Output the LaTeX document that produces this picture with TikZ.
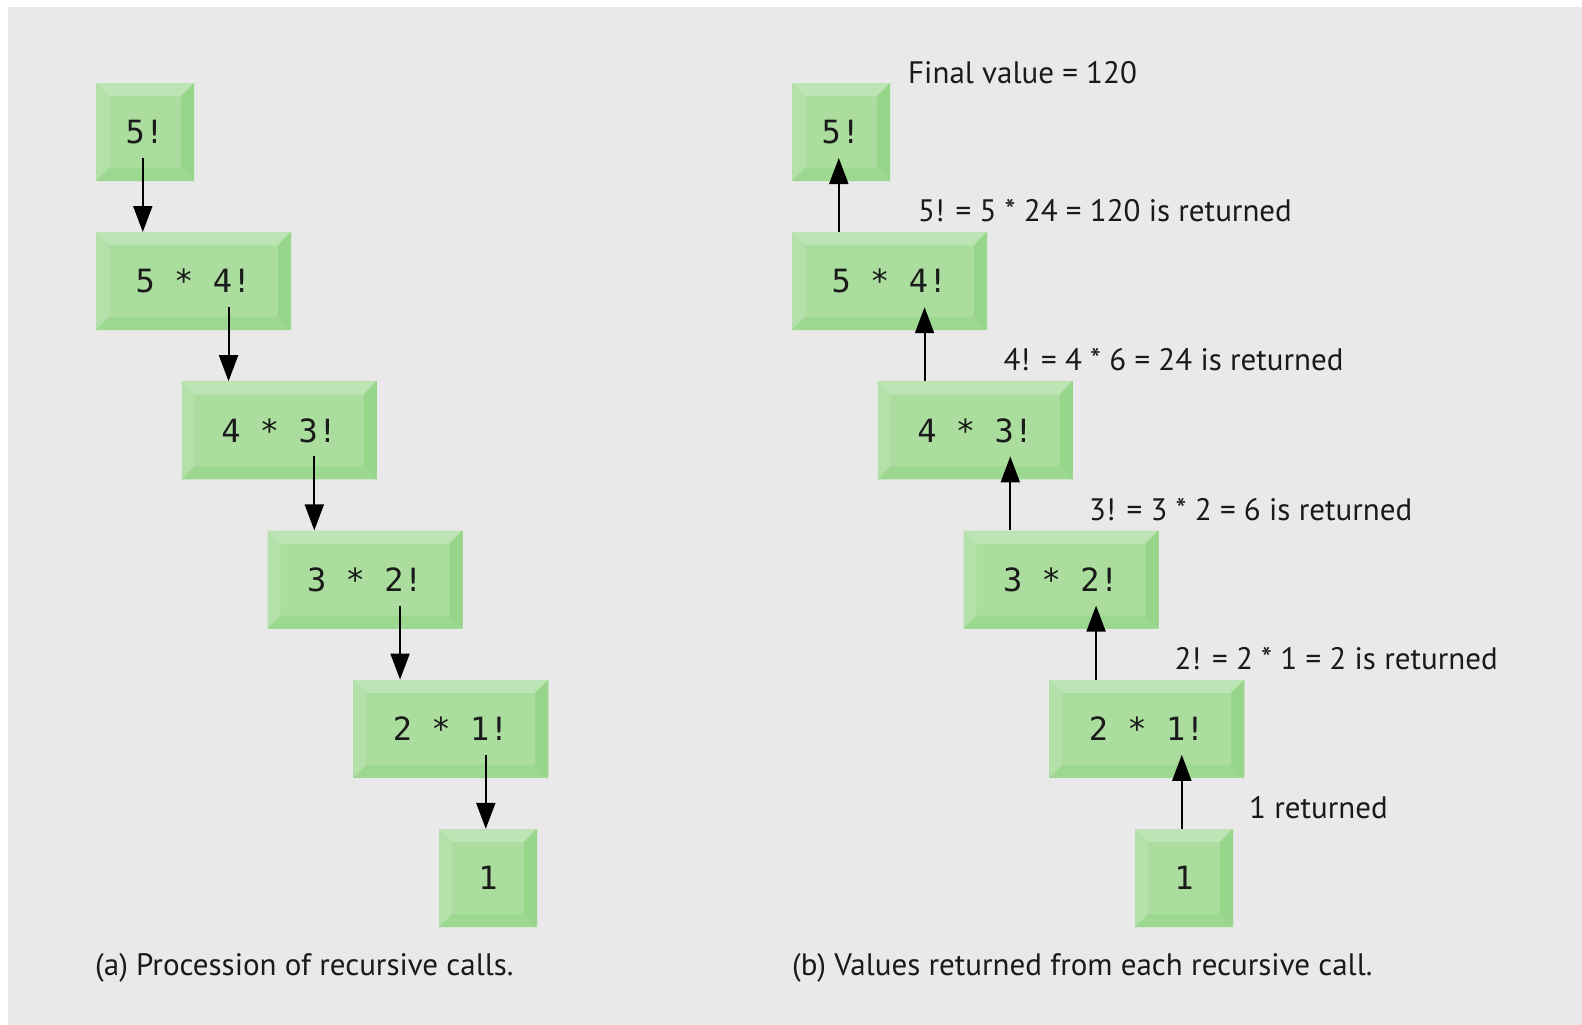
\documentclass[tikz,border=0pt]{standalone}
\usepackage{fontspec}
\setmainfont{PT Sans}
\newfontfamily\boxfont{DejaVu Sans Mono}
\usetikzlibrary{arrows.meta,calc}
\definecolor{bgc}{HTML}{E8E9E8}
\definecolor{face}{HTML}{ABDD9E}
\definecolor{bevtop}{HTML}{BDE4B4}
\definecolor{bevleft}{HTML}{B4E1A9}
\definecolor{bevright}{HTML}{97D58A}
\definecolor{bevbot}{HTML}{9DD890}
\definecolor{txt}{HTML}{1A1A1A}
\def\bv{13pt}
\tikzset{
  bbox/.style={fill=face, inner sep=0pt, minimum height=98, text=txt,
    font=\boxfont\fontsize{32}{36}\selectfont,
    path picture={
      \fill[bevtop] (path picture bounding box.north west) -- (path picture bounding box.north east)
        -- ([shift={(-\bv,-\bv)}]path picture bounding box.north east)
        -- ([shift={(\bv,-\bv)}]path picture bounding box.north west) -- cycle;
      \fill[bevleft] (path picture bounding box.north west) -- ([shift={(\bv,-\bv)}]path picture bounding box.north west)
        -- ([shift={(\bv,\bv)}]path picture bounding box.south west) -- (path picture bounding box.south west) -- cycle;
      \fill[bevright] (path picture bounding box.north east) -- (path picture bounding box.south east)
        -- ([shift={(-\bv,\bv)}]path picture bounding box.south east)
        -- ([shift={(-\bv,-\bv)}]path picture bounding box.north east) -- cycle;
      \fill[bevbot] (path picture bounding box.south west) -- (path picture bounding box.south east)
        -- ([shift={(-\bv,\bv)}]path picture bounding box.south east)
        -- ([shift={(\bv,\bv)}]path picture bounding box.south west) -- cycle;
    }},
  narrowbox/.style={bbox, minimum width=98},
  widebox/.style={bbox, minimum width=195},
  arr/.style={-{Triangle[length=26pt,width=19pt]}, line width=2pt, draw=black},
  lbl/.style={anchor=base west, inner sep=0pt, text=txt, font=\fontsize{31}{35}\selectfont}
}
\begin{document}
\begin{tikzpicture}[x=1pt,y=-1pt]
\useasboundingbox (0,0) rectangle (1582,1025);
\fill[white] (0,0) rectangle (1582,1025);
\fill[bgc] (8,7) rectangle (1582,1025);

% left column
\node[narrowbox] (L1) at (145,132) {5!};
\node[widebox] (L2) at (193.5,281.2) {5 * 4!};
\node[widebox] (L3) at (279.25,430.4) {4 * 3!};
\node[widebox] (L4) at (365,579.6) {3 * 2!};
\node[widebox] (L5) at (450.75,728.8) {2 * 1!};
\node[narrowbox] (L6) at (488,878) {1};

\foreach \a/\b in {L1/L2,L2/L3,L3/L4,L4/L5,L5/L6}
  \draw[arr] ($(\b.north west)+(47,-74)$) -- ($(\b.north west)+(47,0)$);

% right column
\node[narrowbox] (R1) at (841,132) {5!};
\node[widebox] (R2) at (889.5,281.2) {5 * 4!};
\node[widebox] (R3) at (975.25,430.4) {4 * 3!};
\node[widebox] (R4) at (1061,579.6) {3 * 2!};
\node[widebox] (R5) at (1146.75,728.8) {2 * 1!};
\node[narrowbox] (R6) at (1184,878) {1};

\foreach \a/\b in {R1/R2,R2/R3,R3/R4,R4/R5,R5/R6}
  \draw[arr] ($(\b.north west)+(47,0)$) -- ($(\b.north west)+(47,-74)$);

% labels
\node[lbl] (t0) at (908,83.3) {Final value = 120};
\node[lbl] (t1) at (918,221.7) {5! = 5 * 24 = 120 is returned};
\node[lbl] (t2) at (1003.5,370.9) {4! = 4 * 6 = 24 is returned};
\node[lbl] (t3) at (1089,520.1) {3! = 3 * 2 = 6 is returned};
\node[lbl] (t4) at (1174.5,669.3) {2! = 2 * 1 = 2 is returned};
\node[lbl] (t5) at (1249,818.5) {1 returned};

\node[lbl] (capa) at (95,975) {(a) Procession of recursive calls.};
\node[lbl] (capb) at (792,975) {(b) Values returned from each recursive call.};
\end{tikzpicture}
\end{document}
